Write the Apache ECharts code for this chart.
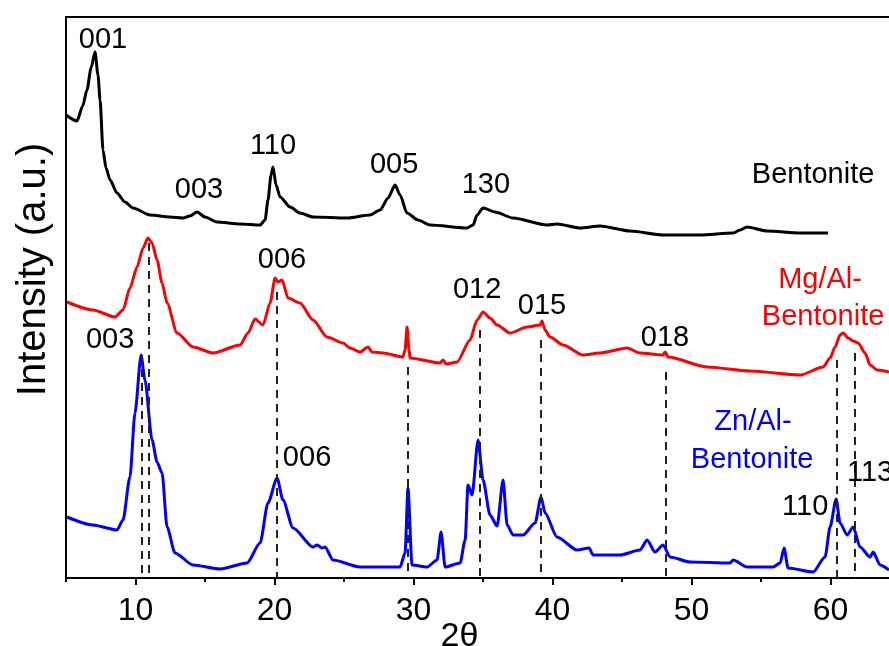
<!DOCTYPE html>
<html>
<head>
<meta charset="utf-8">
<script src="https://cdn.jsdelivr.net/npm/echarts@6/dist/echarts.min.js"></script>
<style>
html,body{margin:0;padding:0;background:#fff;}
#chart{width:889px;height:646px;}
</style>
</head>
<body>
<div id="chart"></div>
<script>
// ---- data (2θ in degrees, intensity in arbitrary units) ----
const bentonite = [[5.00,463],[5.79,457],[6.20,472],[6.51,488],[6.80,510],[7.09,526],[7.30,503],[7.45,478],[7.66,428],[7.88,410],[8.17,398],[8.67,385],[9.24,376],[9.82,370],[11.04,363],[12.48,361],[13.42,360],[13.92,362],[14.42,366],[15.00,361],[15.86,356],[17.52,354],[18.96,353],[19.32,358],[19.53,378],[19.75,403],[19.89,411],[20.11,393],[20.40,381],[21.12,371],[21.83,365],[22.77,361],[25.22,360],[26.87,363],[27.59,368],[28.17,380],[28.67,393],[29.03,383],[29.53,365],[30.32,358],[31.19,353],[33.85,350],[34.28,353],[34.57,363],[35.00,370],[35.86,366],[37.16,360],[39.60,353],[40.32,354],[41.98,350],[43.42,352],[45.58,347],[47.95,343],[50.61,343],[52.99,345],[53.49,348],[53.99,351],[55.43,347],[57.81,345],[59.82,345]];

const mgAl = [[5.07,276],[6.94,268],[8.53,261],[9.10,268],[9.60,290],[10.11,311],[10.54,330],[10.90,340],[11.19,335],[11.55,318],[11.91,295],[12.27,275],[12.99,245],[14.14,231],[15.58,225],[17.52,233],[18.09,245],[18.60,259],[19.17,253],[19.68,275],[20.04,300],[20.25,296],[20.54,298],[20.97,280],[21.83,275],[22.77,258],[23.78,241],[24.93,235],[25.43,230],[26.15,226],[26.73,231],[27.01,226],[27.81,225],[29.24,221],[29.39,228],[29.53,251],[29.68,228],[29.75,220],[31.91,215],[32.12,218],[32.34,214],[33.13,216],[34.06,238],[34.57,258],[35.00,266],[35.50,260],[36.01,253],[36.94,245],[38.17,251],[39.10,253],[39.24,257],[39.46,248],[39.82,241],[40.76,233],[42.19,223],[43.42,225],[45.36,230],[46.29,225],[47.95,223],[48.09,226],[48.31,221],[51.12,211],[54.21,207],[57.81,203],[59.46,211],[59.96,220],[60.32,231],[60.68,243],[60.90,245],[61.26,240],[61.62,237],[61.98,235],[62.48,225],[62.84,213],[63.35,208],[64.20,206]];

const znAl = [[5.07,61],[6.94,53],[8.67,48],[9.10,58],[9.60,101],[9.96,165],[10.40,223],[10.68,198],[11.19,138],[11.55,116],[11.91,105],[12.27,51],[12.84,25],[14.14,13],[16.08,9],[18.02,15],[18.96,35],[19.53,75],[20.18,100],[20.61,78],[21.33,50],[22.77,31],[23.06,33],[23.42,30],[23.63,31],[24.21,18],[26.15,11],[29.03,11],[29.39,25],[29.60,90],[29.89,13],[30.97,11],[31.69,18],[31.98,46],[32.27,11],[33.35,15],[33.71,38],[33.92,93],[34.21,83],[34.64,138],[35.00,98],[35.50,63],[36.01,52],[36.44,98],[36.73,53],[37.16,43],[37.88,43],[38.74,55],[39.17,81],[39.46,65],[40.32,41],[41.76,28],[42.63,30],[42.91,23],[44.86,23],[46.29,28],[46.80,38],[47.37,26],[47.95,33],[48.45,21],[49.89,16],[52.77,15],[52.99,18],[53.99,11],[55.86,11],[56.37,15],[56.65,30],[56.94,10],[58.74,6],[59.60,21],[59.96,51],[60.40,79],[60.68,55],[61.19,43],[61.62,51],[62.12,31],[62.84,21],[63.06,26],[63.56,13],[64.20,8]];

// reference peak positions: [2θ, top intensity]
const refLines = [[10.45,223],[10.95,335],[20.18,286],[29.60,211],[34.78,248],[39.17,238],[48.17,206],[60.47,218],[61.76,225]];

// tick values
const majorTicks = [10,20,30,40,50,60];
const minorTicks = [5,15,25,35,45,55];

// annotations: [text, 2θ, intensity]
const blackNotes = [['001',7.66,538],['003',14.57,388],['110',19.89,432],['005',28.6,413],['130',35.2,393],['Bentonite',58.74,403],
                    ['006',20.54,318],['012',34.57,288],['015',39.24,272],['018',48.09,240],
                    ['003',8.17,238],['006',22.34,120],['110',58.17,71],['113',62.84,105]];
const redNotes = [['Mg/Al-',59.24,298],['Bentonite',59.46,261]];
const blueNotes = [['Zn/Al-',54.42,156],['Bentonite',54.35,118]];

const FONT = 'Liberation Sans, Arial, sans-serif';

function noteSeries(notes, color) {
  return {
    type: 'scatter',
    silent: true,
    symbolSize: 1,
    itemStyle: {color: 'rgba(0,0,0,0)', opacity: 1},
    z: 5,
    data: notes.map(n => ({name: n[0], value: [n[1], n[2]]})),
    label: {show: true, position: 'inside', formatter: '{b}', color: color, opacity: 1,
            textBorderWidth: 0, fontSize: 29, fontFamily: FONT}
  };
}

function curve(name, data, color) {
  return {type: 'line', name: name, data: data, showSymbol: false, smooth: 0.25, smoothMonotone: 'x',
          lineStyle: {color: color, width: 3}, z: 3};
}

const chart = echarts.init(document.getElementById('chart'), null, {renderer: 'canvas'});
chart.setOption({
  animation: false,
  backgroundColor: '#fff',
  grid: {left: 66, top: 17, right: 0, bottom: 68, outerBoundsMode: 'none', containLabel: false},
  xAxis: [{
    type: 'value', min: 5, max: 64.2,
    name: '2θ', nameLocation: 'middle', nameGap: 42, nameMoveOverlap: false,
    nameTextStyle: {fontSize: 34, color: '#000', fontFamily: FONT, padding: [0, 36, 0, 0]},
    axisLine: {lineStyle: {color: '#000', width: 2}},
    axisTick: {customValues: majorTicks, length: 7, lineStyle: {color: '#000', width: 2}},
    axisLabel: {customValues: majorTicks, fontSize: 32, color: '#000', margin: 17, fontFamily: FONT},
    splitLine: {show: false}
  }, {
    type: 'value', min: 5, max: 64.2, position: 'bottom',
    axisLine: {show: false},
    axisTick: {customValues: minorTicks, length: 4, lineStyle: {color: '#000', width: 2}},
    axisLabel: {show: false},
    splitLine: {show: false}
  }, {
    type: 'value', min: 5, max: 64.2, position: 'top',
    axisLine: {show: true, lineStyle: {color: '#000', width: 2}},
    axisTick: {show: false},
    axisLabel: {show: false},
    splitLine: {show: false}
  }],
  yAxis: {
    type: 'value', min: 0, max: 561,
    name: 'Intensity (a.u.)', nameLocation: 'middle', nameGap: 12,
    nameTextStyle: {fontSize: 40, color: '#000', fontFamily: FONT, padding: [0, 0, 0, 56]},
    axisLine: {show: true, lineStyle: {color: '#000', width: 2}},
    axisTick: {show: false},
    axisLabel: {show: false},
    splitLine: {show: false}
  },
  series: [
    curve('Bentonite', bentonite, '#000'),
    curve('Mg/Al-Bentonite', mgAl, '#ff0000'),
    Object.assign(curve('Zn/Al-Bentonite', znAl, '#0000ff'), {
      markLine: {
        silent: true, symbol: ['none', 'none'], label: {show: false},
        lineStyle: {color: '#222', width: 2, type: [8, 6]},
        data: refLines.map(r => [{coord: [r[0], r[1]]}, {coord: [r[0], 0]}])
      }
    }),
    noteSeries(blackNotes, '#000'),
    noteSeries(redNotes, '#ff0000'),
    noteSeries(blueNotes, '#0000ff')
  ]
});
</script>
</body>
</html>
